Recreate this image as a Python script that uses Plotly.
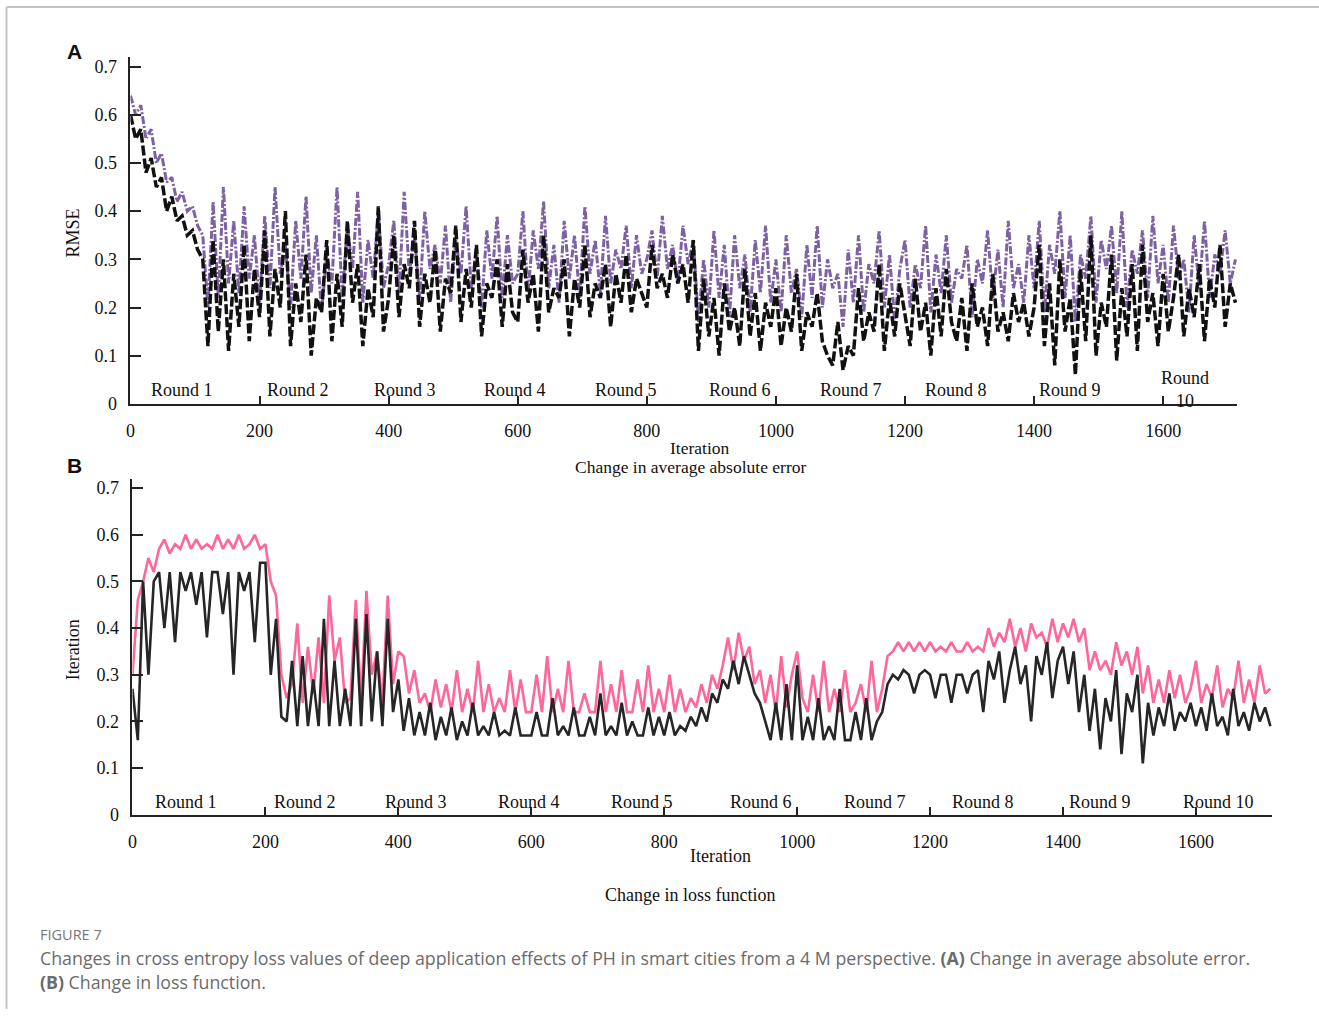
import plotly.graph_objects as go

# iteration spacing between the values
STEP = 8

# (A) RMSE, purple dash-dot curve, one line per 200 iterations
purple_a = [
    .64, .60, .62, .55, .57, .50, .52, .46, .47, .42, .44, .40, .41, .37, .35, .20, .42, .22, .45, .25, .38, .23, .41, .26, .35,
    .21, .39, .24, .45, .27, .33, .20, .38, .26, .43, .23, .35, .19, .31, .25, .45, .22, .37, .28, .44, .21, .34, .26, .40, .24,
    .29, .38, .23, .44, .27, .35, .22, .40, .28, .33, .25, .37, .21, .34, .27, .41, .24, .32, .20, .36, .26, .39, .22, .35, .25,
    .27, .40, .23, .36, .28, .42, .24, .33, .21, .38, .26, .35, .22, .41, .27, .34, .23, .39, .25, .32, .28, .37, .24, .35, .27,
    .30, .36, .26, .39, .28, .33, .25, .37, .29, .34, .17, .30, .20, .36, .22, .33, .18, .35, .24, .31, .19, .34, .23, .37, .21,
    .30, .19, .35, .23, .28, .18, .33, .22, .37, .20, .30, .24, .27, .16, .32, .21, .35, .19, .29, .25, .36, .20, .31, .17, .28,
    .34, .20, .29, .24, .37, .19, .31, .23, .35, .21, .28, .26, .33, .18, .30, .25, .36, .22, .32, .20, .38, .24, .29, .21, .35,
    .24, .38, .19, .33, .27, .40, .22, .35, .17, .31, .26, .39, .21, .34, .28, .37, .23, .40, .20, .32, .27, .36, .22, .39, .25,
    .33, .21, .37, .26, .30, .19, .35, .24, .38, .22, .31, .27, .36, .25, .30,
]

# (A) RMSE, black dashed curve
black_a = [
    .60, .55, .57, .48, .51, .45, .47, .40, .43, .38, .39, .35, .36, .32, .30, .12, .34, .15, .30, .11, .27, .16, .33, .13, .28,
    .18, .36, .14, .28, .20, .40, .12, .25, .17, .31, .10, .22, .19, .34, .13, .27, .16, .38, .21, .29, .12, .24, .18, .41, .15,
    .22, .35, .18, .29, .24, .38, .16, .27, .21, .32, .15, .26, .23, .37, .17, .28, .20, .33, .14, .25, .22, .30, .16, .29, .19,
    .17, .32, .21, .27, .15, .35, .19, .24, .22, .30, .14, .26, .20, .33, .18, .25, .22, .29, .16, .27, .21, .31, .19, .26, .23,
    .20, .33, .24, .27, .22, .31, .25, .29, .21, .34, .11, .26, .14, .22, .10, .25, .15, .20, .12, .28, .14, .23, .11, .21, .16,
    .24, .12, .20, .15, .27, .11, .19, .16, .23, .13, .10, .08, .17, .07, .12, .10, .24, .13, .19, .15, .29, .11, .22, .14, .25,
    .18, .12, .26, .15, .21, .10, .24, .14, .28, .17, .13, .22, .11, .25, .16, .20, .12, .27, .15, .19, .13, .23, .17, .21, .14,
    .20, .33, .12, .25, .08, .30, .15, .22, .06, .28, .13, .35, .10, .21, .16, .31, .09, .24, .14, .29, .11, .33, .17, .23, .12,
    .27, .15, .22, .31, .14, .24, .18, .29, .13, .26, .20, .33, .16, .25, .21,
]

# (B) loss, pink curve
pink_b = [
    .30, .46, .50, .55, .52, .57, .59, .56, .58, .57, .60, .57, .59, .57, .58, .57, .60, .57, .59, .57, .60, .57, .58, .60, .57,
    .58, .50, .47, .30, .25, .28, .41, .24, .36, .26, .38, .24, .47, .33, .38, .24, .25, .46, .24, .48, .30, .35, .24, .47, .28,
    .35, .34, .26, .31, .24, .26, .22, .29, .23, .28, .22, .31, .22, .27, .22, .33, .22, .28, .22, .25, .22, .31, .22, .29, .22,
    .22, .30, .22, .34, .22, .27, .22, .33, .22, .22, .26, .22, .22, .33, .22, .28, .22, .31, .22, .22, .29, .22, .32, .22, .27,
    .22, .30, .22, .27, .22, .25, .23, .28, .24, .30, .27, .32, .38, .31, .39, .33, .36, .28, .31, .24, .30, .22, .34, .23, .30,
    .35, .25, .22, .30, .22, .33, .22, .27, .22, .31, .22, .24, .28, .22, .33, .22, .27, .34, .35, .37, .35, .37, .35, .37, .35,
    .37, .35, .36, .35, .37, .35, .35, .37, .35, .36, .35, .40, .36, .39, .37, .42, .36, .40, .35, .41, .38, .39, .36, .42, .37,
    .41, .38, .42, .37, .40, .31, .35, .31, .33, .30, .37, .32, .35, .30, .36, .26, .32, .24, .29, .24, .31, .25, .30, .24, .27,
    .33, .24, .28, .25, .32, .23, .27, .25, .33, .24, .29, .24, .32, .26, .27,
]

# (B) loss, dark curve
dark_b = [
    .27, .16, .50, .30, .50, .52, .40, .52, .37, .52, .48, .52, .45, .52, .38, .52, .52, .43, .52, .30, .52, .48, .52, .37, .54,
    .54, .30, .42, .21, .20, .33, .19, .34, .19, .29, .19, .42, .19, .33, .19, .27, .19, .42, .19, .43, .20, .35, .19, .42, .22,
    .29, .18, .25, .17, .22, .17, .24, .16, .21, .17, .23, .16, .20, .17, .24, .17, .19, .17, .22, .17, .18, .17, .23, .17, .17,
    .17, .22, .17, .17, .25, .17, .19, .17, .23, .17, .17, .21, .17, .26, .17, .19, .17, .24, .17, .20, .17, .17, .23, .17, .21,
    .17, .22, .17, .19, .18, .21, .19, .23, .20, .26, .24, .29, .27, .33, .28, .34, .30, .26, .24, .20, .16, .24, .16, .28, .16,
    .32, .16, .21, .16, .25, .16, .19, .16, .27, .16, .16, .22, .16, .25, .16, .20, .22, .28, .30, .29, .31, .30, .26, .30, .31,
    .30, .25, .30, .30, .24, .30, .30, .26, .30, .31, .22, .33, .29, .35, .24, .31, .36, .28, .32, .20, .34, .30, .37, .25, .33,
    .36, .28, .35, .22, .30, .18, .27, .14, .25, .20, .31, .13, .26, .22, .30, .11, .24, .17, .23, .19, .26, .18, .22, .20, .24,
    .19, .23, .18, .26, .19, .21, .17, .27, .19, .22, .18, .24, .20, .23, .19,
]

round_names = ["Round 1", "Round 2", "Round 3", "Round 4", "Round 5",
               "Round 6", "Round 7", "Round 8", "Round 9", "Round 10"]
round_pos = [80, 260, 426, 596, 767, 945, 1117, 1279, 1456, 1634]
x_ticks = [0, 200, 400, 600, 800, 1000, 1200, 1400, 1600]
y_ticks = [0, 0.1, 0.2, 0.3, 0.4, 0.5, 0.6, 0.7]

W, H = 1319, 1019
SERIF = "Liberation Serif"

# the captured page came out slightly shifted/squeezed; undo that when placing things
SHIFT_X, SCALE_X, SCALE_Y = 4.5, 0.9963, 0.9905


def iters(vals):
    return [i * STEP for i in range(len(vals))]


def fx(x):
    return (x - SHIFT_X) / SCALE_X / W


def fy(y):
    return 1 - y / SCALE_Y / H


fig = go.Figure()
fig.add_trace(go.Scatter(x=iters(purple_a), y=purple_a, mode="lines", xaxis="x", yaxis="y",
                         line=dict(color="#7d62a3", width=3, dash="8px,2px,2px,2px")))
fig.add_trace(go.Scatter(x=iters(black_a), y=black_a, mode="lines", xaxis="x", yaxis="y",
                         line=dict(color="#111111", width=3.5, dash="10px,3px")))
fig.add_trace(go.Scatter(x=iters(pink_b), y=pink_b, mode="lines", xaxis="x2", yaxis="y2",
                         line=dict(color="#ff6699", width=2.6)))
fig.add_trace(go.Scatter(x=iters(dark_b), y=dark_b, mode="lines", xaxis="x2", yaxis="y2",
                         line=dict(color="#262626", width=2.6)))

axis_common = dict(showline=True, linecolor="#222222", linewidth=2, showgrid=False, zeroline=False,
                   ticks="inside", tickcolor="#222222", tickwidth=1.5,
                   tickfont=dict(family=SERIF, size=18, color="#111111"))

fig.update_layout(
    width=W, height=H, margin=dict(l=0, r=0, t=0, b=0),
    paper_bgcolor="white", plot_bgcolor="white", showlegend=False,
    xaxis=dict(axis_common, domain=[fx(130), fx(1237)], range=[0, 1715], tickvals=x_ticks,
               ticklen=8, ticklabelstandoff=10, anchor="y"),
    yaxis=dict(axis_common, domain=[fy(404), fy(57)], range=[0, 0.72], tickvals=y_ticks,
               ticklen=11, ticklabelstandoff=8, anchor="x"),
    xaxis2=dict(axis_common, domain=[fx(132), fx(1272)], range=[0, 1715], tickvals=x_ticks,
                ticklen=8, ticklabelstandoff=10, anchor="y2"),
    yaxis2=dict(axis_common, domain=[fy(815), fy(479)], range=[0, 0.72], tickvals=y_ticks,
                ticklen=11, ticklabelstandoff=8, anchor="x2"),
)

ann = []
serif = dict(family=SERIF, size=18, color="#111111")
for name, pos in zip(round_names, round_pos):
    txt_a = "Round<br>10" if name == "Round 10" else name
    ann.append(dict(x=pos, y=0.029, xref="x", yref="y", text=txt_a, showarrow=False,
                    font=serif, xanchor="center", yanchor="middle"))
    ann.append(dict(x=pos, y=0.028, xref="x2", yref="y2", text=name, showarrow=False,
                    font=serif, xanchor="center", yanchor="middle"))


def label(x, y, text, **kw):
    d = dict(x=fx(x), y=fy(y), xref="paper", yref="paper", text=text, showarrow=False,
             xanchor="center", yanchor="middle", font=serif)
    d.update(kw)
    ann.append(d)


label(700, 448, "Iteration", font=dict(family=SERIF, size=17.5, color="#111111"))
label(690, 467, "Change in average absolute error", font=dict(family=SERIF, size=17.5, color="#111111"))
label(720, 856, "Iteration")
label(690, 895, "Change in loss function")
label(72, 233, "RMSE", textangle=-90)
label(72, 650, "Iteration", textangle=-90)
label(74, 52, "<b>A</b>", font=dict(family="Liberation Sans", size=21, color="#111111"))
label(74, 466, "<b>B</b>", font=dict(family="Liberation Sans", size=21, color="#111111"))

cap_font = dict(family="Open Sans", size=17.8, color="#6b6b6b")
label(38, 935, "FIGURE 7", xanchor="left", font=dict(family="Open Sans", size=14.5, color="#777777"))
label(38, 958, "Changes in cross entropy loss values of deep application effects of PH in smart cities "
               "from a 4 M perspective. <b>(A)</b> Change in average absolute error.",
      xanchor="left", font=cap_font)
label(38, 982, "<b>(B)</b> Change in loss function.", xanchor="left", font=cap_font)

fig.update_layout(annotations=ann)

# page frame lines at top and left
fig.add_shape(type="line", xref="paper", yref="paper", x0=fx(6), x1=1, y0=fy(7), y1=fy(7),
              line=dict(color="#c4c4c4", width=2))
fig.add_shape(type="line", xref="paper", yref="paper", x0=fx(6), x1=fx(6), y0=fy(7), y1=0,
              line=dict(color="#c4c4c4", width=2))

# pin the figure to the window's top-left corner so the page is exactly one window tall
pin = ("document.body.style.margin='0';document.body.style.overflow='hidden';"
       "var d=document.getElementById('{plot_id}');"
       "d.style.position='fixed';d.style.top='0';d.style.left='0';")
fig.write_html("out.html", config={"displayModeBar": False}, post_script=pin)
